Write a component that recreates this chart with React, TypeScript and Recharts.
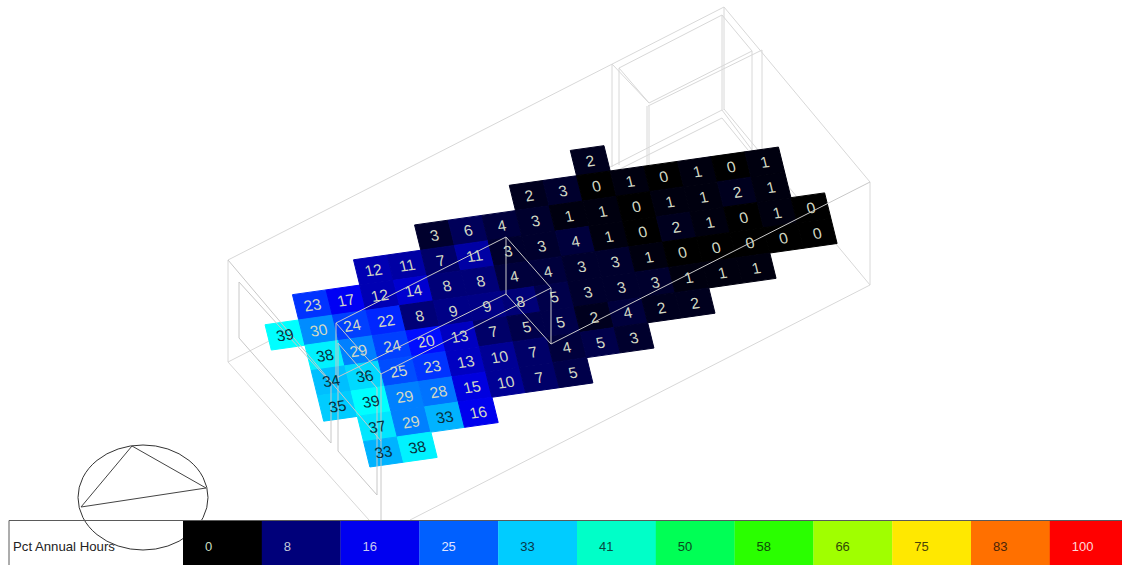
import React from "react";
import { ScatterChart, Scatter, XAxis, YAxis, BarChart, Bar, Cell, LabelList } from "recharts";

const WIDTH = 1122;
const HEIGHT = 565;

// Grid values, one list per row, with the first column each row starts at.
const row1 = [2];
const row2 = [2, 3, 0, 1, 0, 1, 0, 1];
const row3 = [3, 6, 4, 3, 1, 1, 0, 1, 1, 2, 1];
const row4 = [12, 11, 7, 11, 3, 3, 4, 1, 0, 2, 1, 0, 1, 0];
const row5 = [23, 17, 12, 14, 8, 8, 4, 4, 3, 3, 1, 0, 0, 0, 0, 0];
const row6 = [39, 30, 24, 22, 8, 9, 9, 8, 5, 3, 3, 3, 1, 1, 1];
const row7 = [38, 29, 24, 20, 13, 7, 5, 5, 2, 4, 2, 2];
const row8 = [34, 36, 25, 23, 13, 10, 7, 4, 5, 3];
const row9 = [35, 39, 29, 28, 15, 10, 7, 5];
const row10 = [37, 29, 33, 16];
const row11 = [33, 38];
const rows = [row1, row2, row3, row4, row5, row6, row7, row8, row9, row10, row11];
const rowStarts = [10, 8, 5, 3, 1, 0, 1, 1, 1, 2, 2];

const legendValues = ["0", "8", "16", "25", "33", "41", "50", "58", "66", "75", "83", "100"];
const legendColors = ["#000000", "#00007a", "#0000f0", "#0060ff", "#00ccff", "#00ffc8", "#00ff55", "#2aff00", "#a0ff00", "#ffe800", "#ff7000", "#ff0000"];
const legendInk = ["#c8dcc0", "#c0c8d8", "#c8c8f0", "#e0e4ff", "#083848", "#0a4a40", "#0a4a20", "#104a08", "#304a08", "#4a4408", "#4a2408", "#ffd8d8"];

// Wireframe.
const backLines: number[][][] = [
  [[228, 362], [722, 110]],
  [[722, 118], [618, 170]],
  [[870, 285], [724, 109]],
  [[722, 110], [752, 150]],
  [[722, 118], [748, 150]],
  [[612, 64], [612, 167]],
  [[619, 68], [619, 165]],
  [[612, 64], [649, 103]],
  [[619, 68], [649, 103]],
  [[619, 68], [722, 15]],
  [[649, 103], [752, 51]],
  [[648, 106], [762, 50]],
  [[647, 106], [647, 167]],
  [[649, 106], [649, 165]],
  [[722, 15], [752, 51]],
  [[752, 51], [752, 150]],
  [[762, 50], [762, 150]],
  [[722, 15], [722, 110]],
  [[724, 7], [724, 110]],
];
const outerLines: number[][][] = [
  [[228, 362], [228, 260], [724, 7], [870, 182], [870, 285], [410, 520]],
  [[228, 362], [369, 520]],
];
const frontLines: number[][][] = [
  [[870, 182], [551, 344], [551, 288], [506, 237], [336, 323], [381, 374], [551, 288]],
  [[506, 237], [506, 294], [551, 344]],
  [[506, 294], [336, 378], [336, 323]],
  [[381, 374], [381, 520]],
  [[228, 260], [381, 441]],
  [[239, 282], [331, 383], [331, 443], [239, 338], [239, 282]],
  [[338, 343], [377, 388], [377, 495], [338, 451], [338, 343]],
];
const compassCenter = [{ x: 143, y: 497.5 }];
const compassLines: number[][][] = [[[132, 446], [206, 488], [81, 507], [132, 446]]];
const legendFrame: number[][][] = [[[9, 565], [9, 520.5], [1122, 520.5]]];

// Plane of the heat map on the page.
const origin = [285, 335];
const colStep = [33.65, -4.78];
const rowStep = [6.25, 25.3];
const COL_REF = 0;
const ROW_REF = 5;

const colorStops: number[][] = [
  [0, 0, 0, 0],
  [16, 0, 0, 238],
  [19, 0, 0, 255],
  [39, 0, 255, 255],
];
function cellColor(v: number) {
  for (let k = 1; k < colorStops.length; k++) {
    if (v <= colorStops[k][0]) {
      const a = colorStops[k - 1];
      const b = colorStops[k];
      const t = (v - a[0]) / (b[0] - a[0]);
      const mix = (n: number) => Math.round(a[n] + (b[n] - a[n]) * t);
      return `rgb(${mix(1)},${mix(2)},${mix(3)})`;
    }
  }
  return "rgb(0,255,255)";
}

const cells = rows.flatMap((values, r) =>
  values.map((value, i) => {
    const col = rowStarts[r] + i - COL_REF;
    const row = r - ROW_REF;
    return {
      x: origin[0] + col * colStep[0] + row * rowStep[0],
      y: origin[1] + col * colStep[1] + row * rowStep[1],
      value,
    };
  })
);

const CellShape = (p: any) => {
  const { cx, cy, payload } = p;
  const hu = [colStep[0] / 2, colStep[1] / 2];
  const hv = [rowStep[0] / 2, rowStep[1] / 2];
  const pts = [
    [cx - hu[0] - hv[0], cy - hu[1] - hv[1]],
    [cx + hu[0] - hv[0], cy + hu[1] - hv[1]],
    [cx + hu[0] + hv[0], cy + hu[1] + hv[1]],
    [cx - hu[0] + hv[0], cy - hu[1] + hv[1]],
  ].map((q) => q.join(",")).join(" ");
  const c = cellColor(payload.value);
  return <polygon points={pts} fill={c} stroke={c} strokeWidth={1} />;
};

const CellText = (p: any) => {
  const { cx, cy, payload } = p;
  const dark = payload.value >= 33;
  return (
    <text
      transform={`matrix(0.99,-0.14,0.24,0.97,${cx},${cy})`}
      y={5.5}
      textAnchor="middle"
      fontFamily="'Liberation Sans', Arial, sans-serif"
      fontSize={15.5}
      fill={dark ? "#08303c" : "#d2d8c4"}
    >
      {payload.value}
    </text>
  );
};

const Compass = (p: any) => (
  <ellipse cx={p.cx} cy={p.cy} rx={65} ry={52.5} fill="none" stroke="#333333" strokeWidth={1} />
);
const NoPoint = () => <g />;

const toPts = (line: number[][]) => line.map(([x, y]) => ({ x, y }));

const drawLines = (lines: number[][][], stroke: string, key: string, width = 1) =>
  lines.map((line, i) => (
    <Scatter
      key={`${key}${i}`}
      data={toPts(line)}
      line={{ stroke, strokeWidth: width }}
      shape={NoPoint}
      isAnimationActive={false}
    />
  ));

const legendData = legendValues.map((label) => ({ label, span: 1 }));

const LegendLabel = (p: any) => {
  const { x, y, height, index } = p;
  return (
    <text
      x={x + 22}
      y={y + height / 2 + 8.5}
      textAnchor="start"
      fontFamily="'Liberation Sans', Arial, sans-serif"
      fontSize={13}
      fill={legendInk[index]}
    >
      {legendValues[index]}
    </text>
  );
};

export default function App() {
  return (
    <div style={{ position: "absolute", left: 0, top: 0, width: WIDTH, height: HEIGHT, overflow: "hidden", background: "#fff" }}>
      <div style={{ position: "absolute", left: 0, top: 0 }}>
        <ScatterChart width={WIDTH} height={HEIGHT} margin={{ top: 0, right: 0, bottom: 0, left: 0 }}>
          <XAxis type="number" dataKey="x" domain={[0, WIDTH]} hide />
          <YAxis type="number" dataKey="y" domain={[0, HEIGHT]} reversed hide />
          {drawLines(outerLines, "#d8d8d8", "o")}
          {drawLines(backLines, "#d8d8d8", "b")}
          <Scatter data={cells} shape={CellShape} isAnimationActive={false} />
          {drawLines(frontLines, "#c8c8c8", "f")}
          <Scatter data={cells} shape={CellText} isAnimationActive={false} />
          <Scatter data={compassCenter} shape={Compass} isAnimationActive={false} />
          {drawLines(compassLines, "#444444", "c")}
        </ScatterChart>
      </div>
      <div style={{ position: "absolute", left: 182.5, top: 520 }}>
        <BarChart width={945.6} height={45} data={legendData} barCategoryGap={0} margin={{ top: 0, right: 0, bottom: 0, left: 0 }}>
          <XAxis dataKey="label" hide />
          <YAxis type="number" domain={[0, 1]} hide />
          <Bar dataKey="span" isAnimationActive={false}>
            {legendData.map((d, i) => (
              <Cell key={d.label} fill={legendColors[i]} />
            ))}
            <LabelList dataKey="label" content={LegendLabel} />
          </Bar>
        </BarChart>
      </div>
      <div style={{ position: "absolute", left: 0, top: 0, pointerEvents: "none" }}>
        <ScatterChart width={WIDTH} height={HEIGHT} margin={{ top: 0, right: 0, bottom: 0, left: 0 }}>
          <XAxis type="number" dataKey="x" domain={[0, WIDTH]} hide />
          <YAxis type="number" dataKey="y" domain={[0, HEIGHT]} reversed hide />
          {drawLines(legendFrame, "#5a5a5a", "l")}
        </ScatterChart>
      </div>
      <div style={{ position: "absolute", left: 13, top: 539, fontFamily: "'Liberation Sans', Arial, sans-serif", fontSize: 13.2, lineHeight: "15px", color: "#222" }}>
        Pct Annual Hours
      </div>
    </div>
  );
}
